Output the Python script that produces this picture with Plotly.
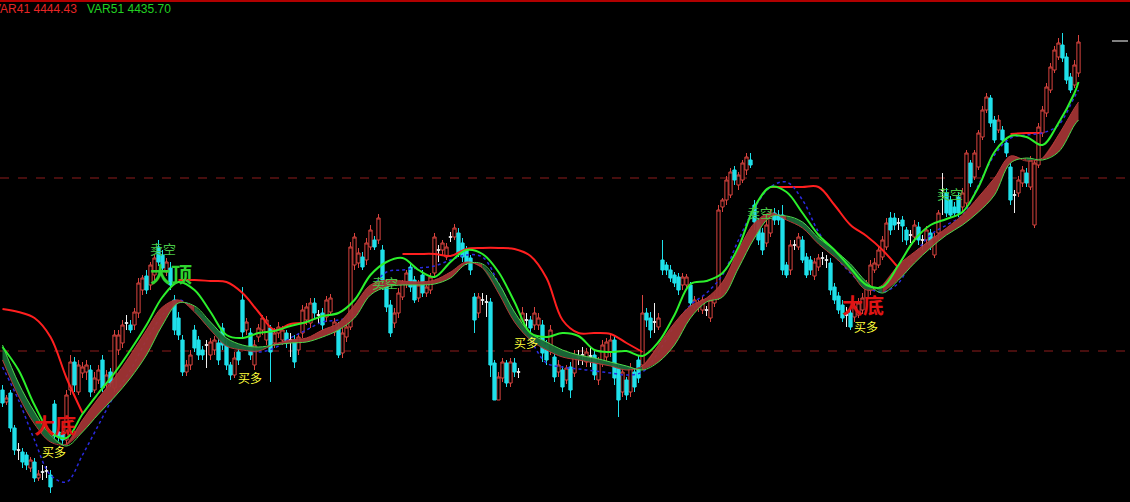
import plotly.graph_objects as go

# ---------------- data (prices) ----------------
open_ = [
    4188, 4176, 4185, 4150, 4128, 4126, 4123, 4110, 4116, 4100,
    4106, 4107, 4103, 4174, 4146, 4146, 4138, 4188, 4216, 4186,
    4205, 4206, 4208, 4188, 4198, 4218, 4193, 4206, 4190, 4228,
    4235, 4255, 4253, 4253, 4265, 4288, 4302, 4293, 4303, 4331,
    4323, 4306, 4310, 4278, 4260, 4238, 4206, 4213, 4248, 4238,
    4228, 4233, 4223, 4228, 4235, 4250, 4233, 4213, 4203, 4226,
    4278, 4248, 4245, 4213, 4241, 4248, 4238, 4250, 4235, 4245,
    4238, 4245, 4238, 4238, 4228, 4245, 4258, 4255, 4275, 4263,
    4265, 4261, 4266, 4246, 4251, 4225, 4241, 4251, 4313, 4315,
    4321, 4318, 4331, 4338, 4338, 4328, 4295, 4273, 4255, 4265,
    4281, 4295, 4311, 4298, 4280, 4303, 4285, 4288, 4305, 4328,
    4328, 4321, 4341, 4341, 4345, 4335, 4328, 4320, 4281, 4265,
    4278, 4276, 4276, 4215, 4178, 4200, 4215, 4195, 4215, 4206,
    4250, 4258, 4258, 4253, 4253, 4253, 4233, 4228, 4221, 4206,
    4208, 4198, 4211, 4205, 4221, 4223, 4216, 4222, 4223, 4198,
    4216, 4221, 4226, 4238, 4210, 4186, 4198, 4186, 4206, 4218,
    4213, 4265, 4260, 4256, 4251, 4318, 4313, 4308, 4303, 4301,
    4293, 4293, 4293, 4271, 4271, 4268, 4268, 4260, 4275, 4281,
    4371, 4378, 4383, 4408, 4393, 4398, 4408, 4418, 4373, 4356,
    4345, 4335, 4345, 4365, 4363, 4363, 4313, 4308, 4333, 4331,
    4338, 4321, 4318, 4302, 4311, 4320, 4318, 4315, 4291, 4282,
    4273, 4263, 4265, 4261, 4263, 4268, 4280, 4288, 4308, 4313,
    4321, 4331, 4360, 4360, 4355, 4358, 4348, 4343, 4341, 4351,
    4338, 4338, 4345, 4323, 4345, 4388, 4385, 4378, 4371, 4381,
    4371, 4375, 4415, 4401, 4411, 4441, 4468, 4480, 4458, 4448,
    4448, 4435, 4411, 4383, 4385, 4395, 4405, 4391, 4353, 4413,
    4445, 4465, 4488, 4508, 4521, 4533, 4521, 4501, 4493, 4505,
]
high = [
    4193, 4183, 4188, 4153, 4135, 4130, 4126, 4121, 4120, 4108,
    4113, 4112, 4108, 4178, 4150, 4150, 4188, 4223, 4221, 4218,
    4216, 4218, 4213, 4206, 4213, 4223, 4208, 4210, 4248, 4248,
    4258, 4263, 4258, 4270, 4300, 4303, 4308, 4316, 4323, 4338,
    4328, 4320, 4316, 4283, 4266, 4243, 4218, 4228, 4253, 4242,
    4232, 4238, 4240, 4242, 4240, 4255, 4238, 4216, 4226, 4230,
    4291, 4260, 4250, 4238, 4254, 4263, 4262, 4253, 4250, 4256,
    4252, 4248, 4245, 4243, 4245, 4273, 4275, 4280, 4280, 4268,
    4270, 4282, 4284, 4260, 4256, 4250, 4256, 4336, 4345, 4330,
    4326, 4340, 4353, 4342, 4364, 4333, 4298, 4278, 4270, 4290,
    4298, 4308, 4316, 4302, 4298, 4308, 4295, 4305, 4345, 4333,
    4338, 4335, 4346, 4354, 4350, 4340, 4332, 4323, 4285, 4285,
    4285, 4283, 4280, 4218, 4206, 4220, 4218, 4220, 4220, 4210,
    4271, 4265, 4262, 4271, 4265, 4258, 4238, 4253, 4226, 4218,
    4212, 4213, 4216, 4228, 4228, 4231, 4230, 4230, 4228, 4221,
    4238, 4240, 4243, 4242, 4213, 4210, 4201, 4215, 4210, 4223,
    4283, 4270, 4266, 4275, 4265, 4338, 4316, 4313, 4306, 4305,
    4305, 4304, 4296, 4282, 4278, 4282, 4272, 4281, 4285, 4373,
    4380, 4402, 4410, 4412, 4406, 4418, 4425, 4425, 4378, 4360,
    4350, 4358, 4368, 4370, 4368, 4373, 4316, 4338, 4338, 4345,
    4342, 4325, 4322, 4320, 4324, 4326, 4323, 4320, 4295, 4286,
    4278, 4271, 4270, 4275, 4280, 4285, 4298, 4318, 4320, 4332,
    4342, 4360, 4366, 4365, 4360, 4362, 4351, 4348, 4358, 4356,
    4343, 4352, 4349, 4345, 4368, 4405, 4390, 4382, 4376, 4386,
    4390, 4428, 4418, 4428, 4448, 4472, 4485, 4483, 4462, 4463,
    4452, 4439, 4415, 4388, 4402, 4412, 4410, 4422, 4418, 4455,
    4472, 4495, 4515, 4532, 4540, 4545, 4525, 4505, 4518, 4543,
]
low = [
    4171, 4173, 4146, 4123, 4118, 4110, 4108, 4106, 4096, 4097,
    4098, 4100, 4085, 4138, 4136, 4133, 4133, 4183, 4186, 4183,
    4200, 4198, 4181, 4185, 4194, 4186, 4188, 4191, 4186, 4223,
    4230, 4248, 4245, 4248, 4260, 4283, 4284, 4288, 4298, 4312,
    4306, 4302, 4288, 4243, 4238, 4202, 4202, 4208, 4226, 4218,
    4218, 4210, 4218, 4223, 4213, 4228, 4208, 4198, 4200, 4213,
    4240, 4243, 4218, 4208, 4236, 4243, 4233, 4196, 4230, 4240,
    4233, 4230, 4221, 4210, 4223, 4240, 4253, 4250, 4260, 4255,
    4248, 4256, 4263, 4242, 4220, 4220, 4236, 4248, 4308, 4310,
    4308, 4313, 4328, 4328, 4334, 4288, 4266, 4241, 4250, 4260,
    4278, 4290, 4286, 4275, 4276, 4281, 4281, 4284, 4300, 4316,
    4323, 4318, 4336, 4338, 4321, 4316, 4313, 4303, 4245, 4260,
    4273, 4261, 4201, 4178, 4178, 4196, 4191, 4191, 4201, 4200,
    4246, 4248, 4245, 4248, 4248, 4216, 4213, 4223, 4196, 4201,
    4186, 4194, 4180, 4201, 4213, 4213, 4211, 4211, 4198, 4193,
    4211, 4216, 4221, 4193, 4161, 4181, 4178, 4181, 4186, 4195,
    4208, 4251, 4240, 4245, 4248, 4303, 4303, 4296, 4291, 4283,
    4288, 4288, 4271, 4268, 4266, 4264, 4262, 4256, 4271, 4278,
    4366, 4373, 4380, 4393, 4388, 4395, 4403, 4410, 4348, 4333,
    4323, 4331, 4341, 4353, 4353, 4303, 4300, 4303, 4328, 4328,
    4315, 4300, 4303, 4298, 4307, 4313, 4310, 4283, 4274, 4264,
    4256, 4251, 4248, 4256, 4260, 4264, 4276, 4283, 4305, 4310,
    4318, 4328, 4343, 4348, 4348, 4336, 4333, 4335, 4336, 4333,
    4328, 4333, 4328, 4320, 4338, 4363, 4361, 4360, 4362, 4361,
    4367, 4371, 4391, 4398, 4408, 4438, 4465, 4451, 4435, 4445,
    4435, 4421, 4373, 4365, 4381, 4391, 4391, 4388, 4350, 4410,
    4441, 4461, 4485, 4505, 4518, 4516, 4494, 4485, 4490, 4501,
]
close = [
    4175, 4180, 4150, 4128, 4128, 4116, 4113, 4118, 4100, 4104,
    4106, 4107, 4091, 4142, 4141, 4138, 4183, 4216, 4193, 4213,
    4211, 4213, 4186, 4200, 4208, 4190, 4203, 4195, 4243, 4243,
    4253, 4255, 4248, 4266, 4295, 4300, 4288, 4313, 4320, 4316,
    4310, 4316, 4293, 4248, 4243, 4206, 4213, 4223, 4230, 4223,
    4223, 4233, 4236, 4238, 4218, 4233, 4213, 4203, 4220, 4218,
    4246, 4256, 4223, 4233, 4250, 4260, 4258, 4226, 4245, 4251,
    4248, 4235, 4238, 4216, 4241, 4268, 4271, 4275, 4265, 4263,
    4253, 4278, 4280, 4256, 4223, 4245, 4251, 4331, 4341, 4325,
    4311, 4335, 4348, 4331, 4360, 4298, 4271, 4245, 4265, 4285,
    4295, 4305, 4291, 4278, 4293, 4285, 4291, 4301, 4341, 4328,
    4335, 4331, 4341, 4350, 4325, 4321, 4316, 4308, 4258, 4281,
    4278, 4276, 4213, 4178, 4201, 4216, 4195, 4216, 4206, 4206,
    4265, 4258, 4250, 4265, 4260, 4225, 4218, 4248, 4201, 4213,
    4191, 4210, 4188, 4223, 4221, 4223, 4226, 4222, 4203, 4216,
    4233, 4236, 4238, 4200, 4178, 4206, 4183, 4210, 4191, 4200,
    4265, 4258, 4248, 4256, 4260, 4308, 4308, 4300, 4295, 4288,
    4301, 4301, 4275, 4278, 4275, 4278, 4268, 4278, 4281, 4368,
    4378, 4398, 4406, 4398, 4403, 4415, 4421, 4413, 4356, 4338,
    4328, 4353, 4363, 4358, 4358, 4308, 4303, 4333, 4333, 4341,
    4318, 4303, 4308, 4316, 4320, 4320, 4318, 4288, 4278, 4268,
    4260, 4263, 4251, 4271, 4275, 4280, 4293, 4313, 4315, 4328,
    4338, 4355, 4348, 4353, 4355, 4352, 4338, 4343, 4353, 4338,
    4338, 4348, 4333, 4341, 4365, 4388, 4365, 4363, 4365, 4365,
    4385, 4425, 4395, 4425, 4445, 4468, 4481, 4455, 4438, 4458,
    4438, 4425, 4378, 4383, 4398, 4408, 4395, 4418, 4415, 4451,
    4468, 4491, 4511, 4528, 4535, 4520, 4498, 4488, 4513, 4536,
]

# indicator lines, sampled every 4th bar (plus the last bar)
fast_ma = [
    4231, 4208, 4173, 4146, 4140, 4164, 4185, 4205, 4228, 4253,
    4281, 4296, 4288, 4266, 4243, 4240, 4245, 4247, 4252, 4256,
    4262, 4265, 4278, 4303, 4316, 4320, 4308, 4301, 4316, 4328,
    4324, 4306, 4276, 4245, 4241, 4245, 4242, 4228, 4226, 4227,
    4222, 4236, 4263, 4294, 4297, 4305, 4331, 4371, 4391, 4386,
    4365, 4343, 4328, 4310, 4293, 4291, 4313, 4338, 4353, 4359,
    4366, 4391, 4426, 4442, 4441, 4433, 4455, 4485, 4496,
]
band_a = [
    4218, 4182, 4154, 4136, 4134, 4158, 4180, 4200, 4223, 4248,
    4271, 4278, 4266, 4248, 4232, 4228, 4227, 4234, 4238, 4240,
    4248, 4255, 4273, 4293, 4298, 4297, 4296, 4298, 4306, 4316,
    4310, 4285, 4256, 4238, 4228, 4221, 4218, 4215, 4212, 4208,
    4212, 4233, 4255, 4272, 4280, 4296, 4328, 4355, 4365, 4358,
    4350, 4334, 4321, 4306, 4288, 4293, 4313, 4326, 4338, 4350,
    4363, 4381, 4400, 4422, 4417, 4420, 4443, 4470, 4476,
]
band_b = [
    4233, 4195, 4166, 4143, 4132, 4146, 4164, 4181, 4200, 4223,
    4253, 4275, 4272, 4256, 4240, 4233, 4231, 4233, 4235, 4236,
    4241, 4248, 4260, 4283, 4291, 4293, 4293, 4294, 4300, 4314,
    4314, 4295, 4266, 4245, 4236, 4228, 4223, 4220, 4216, 4212,
    4208, 4216, 4233, 4260, 4276, 4281, 4310, 4340, 4361, 4362,
    4356, 4340, 4328, 4314, 4296, 4285, 4298, 4315, 4330, 4343,
    4353, 4366, 4383, 4415, 4420, 4418, 4426, 4453, 4458,
]
blue_ma = [
    4211, 4178, 4138, 4103, 4096, 4123, 4153, 4183, 4208, 4238,
    4263, 4278, 4268, 4253, 4238, 4230, 4226, 4230, 4240, 4248,
    4256, 4258, 4263, 4288, 4306, 4308, 4310, 4312, 4318, 4323,
    4321, 4295, 4263, 4238, 4215, 4211, 4209, 4207, 4205, 4203,
    4206, 4226, 4252, 4273, 4285, 4303, 4338, 4370, 4391, 4396,
    4378, 4346, 4323, 4305, 4291, 4286, 4295, 4323, 4343, 4353,
    4363, 4393, 4423, 4440, 4443, 4445, 4453, 4481, 4488,
]
red_stop = [
    4269, 4266, 4260, 4241, 4200, 4165, None, None, None, None,
    None, 4298, 4298, 4297, 4296, 4285, 4266, 4248, 4254, 4255,
    None, None, None, None, None, 4324, 4324, 4324, 4322, 4329,
    4330, 4330, 4329, 4322, 4300, 4258, 4245, 4245, 4244, 4235,
    4226, None, None, None, None, None, None, None, 4391, 4391,
    4391, 4391, 4373, 4353, 4342, 4328, 4310, None, None, None,
    None, None, None, 4444, 4445, 4445, None, None, None,
]
grid_levels = [4400, 4227]
legend_names = ["VAR41", "VAR51"]
legend_values = [4444.43, 4435.70]

signal_text = ["大底", "买多", "卖空", "大顶", "买多", "卖空", "买多", "卖空", "大底", "买多", "卖空"]
signal_x = [13.1, 12.9, 40.1, 42.1, 61.9, 95.6, 130.9, 189.4, 215.1, 215.9, 236.9]
signal_y = [4154, 4127, 4330, 4305, 4201, 4296, 4236, 4366, 4274, 4252, 4385]

# ---------------- styling ----------------
UP = "#d9443f"
DOWN = "#1fe0ea"
DOJI = "#f0f0f0"
RED_FILL = "rgba(160,52,52,0.95)"
GREEN_FILL = "rgba(26,104,56,0.95)"
SIG_STYLE = {
    "大底": dict(size=21, color="#e01414", bold=True),
    "大顶": dict(size=21, color="#2fd42f", bold=True),
    "卖空": dict(size=13, color="#48c848", bold=False),
    "买多": dict(size=12, color="#ffff3c", bold=False),
}

N = len(close)
candle_x = list(range(N))
line_x = list(range(0, N - 1, 4)) + [N - 1]

fig = go.Figure()


def subset(idx):
    return dict(
        x=[candle_x[i] for i in idx],
        open=[open_[i] for i in idx],
        high=[high[i] for i in idx],
        low=[low[i] for i in idx],
        close=[close[i] for i in idx],
    )


up_idx = [i for i in range(N) if close[i] > open_[i]]
dn_idx = [i for i in range(N) if close[i] < open_[i]]
dj_idx = [i for i in range(N) if close[i] == open_[i]]

for idx, lc, fc in ((up_idx, UP, "#000000"), (dn_idx, DOWN, DOWN), (dj_idx, DOJI, DOJI)):
    fig.add_trace(go.Candlestick(
        **subset(idx),
        increasing=dict(line=dict(color=lc, width=1), fillcolor=fc),
        decreasing=dict(line=dict(color=lc, width=1), fillcolor=fc),
        whiskerwidth=0, hoverinfo="skip", showlegend=False,
    ))

# red trailing line
fig.add_trace(go.Scatter(x=line_x, y=red_stop, mode="lines", connectgaps=False,
                         line=dict(color="#ff1f1f", width=2, shape="spline"),
                         hoverinfo="skip", showlegend=False))
# blue dotted line
fig.add_trace(go.Scatter(x=line_x, y=blue_ma, mode="lines",
                         line=dict(color="#2a2ae0", width=1.5, dash="dot", shape="spline"),
                         hoverinfo="skip", showlegend=False))

# band fill, coloured by direction
rising = [a > b for a, b in zip(band_a, band_b)]
M = len(line_x)
s = 0
for k in range(1, M + 1):
    if k == M or rising[k] != rising[s]:
        e = min(k, M - 1)
        xs = line_x[s:e + 1]
        fig.add_trace(go.Scatter(x=xs, y=band_b[s:e + 1], mode="lines",
                                 line=dict(width=0, shape="spline"),
                                 hoverinfo="skip", showlegend=False))
        fig.add_trace(go.Scatter(x=xs, y=band_a[s:e + 1], mode="lines",
                                 line=dict(width=0, shape="spline"), fill="tonexty",
                                 fillcolor=RED_FILL if rising[s] else GREEN_FILL,
                                 hoverinfo="skip", showlegend=False))
        s = k

fig.add_trace(go.Scatter(x=line_x, y=band_a, mode="lines",
                         line=dict(color="#b53838", width=1, shape="spline"),
                         hoverinfo="skip", showlegend=False))
fig.add_trace(go.Scatter(x=line_x, y=band_b, mode="lines",
                         line=dict(color="#4cd84c", width=1, shape="spline"),
                         hoverinfo="skip", showlegend=False))
fig.add_trace(go.Scatter(x=line_x, y=fast_ma, mode="lines",
                         line=dict(color="#2cf02c", width=2, shape="spline"),
                         hoverinfo="skip", showlegend=False))

# signal labels
for t, sx, sy in zip(signal_text, signal_x, signal_y):
    st = SIG_STYLE[t]
    fig.add_annotation(x=sx, y=sy, text=f"<b>{t}</b>" if st["bold"] else t, showarrow=False,
                       borderpad=0,
                       font=dict(family="Noto Sans CJK SC", size=st["size"], color=st["color"]))

# dashed price levels
for lv in grid_levels:
    fig.add_shape(type="line", xref="paper", yref="y", x0=0, x1=1, y0=lv, y1=lv,
                  line=dict(color="#8e1c1c", width=1, dash="dash"), layer="below")

# top frame line
fig.add_shape(type="line", xref="paper", yref="paper", x0=0, x1=1, y0=0.998, y1=0.998,
              line=dict(color="#b00000", width=2))
# last price marker
fig.add_shape(type="line", xref="paper", yref="y", x0=1112 / 1130, x1=1128 / 1130,
              y0=close[-1] + 1, y1=close[-1] + 1, line=dict(color="#ffffff", width=1))

# legend texts
fig.add_annotation(xref="paper", yref="paper", x=-9 / 1130, y=1 - 9 / 502,
                   xanchor="left", yanchor="middle", showarrow=False,
                   text=f"{legend_names[0]} {legend_values[0]:.2f}",
                   font=dict(family="Liberation Sans, Arial", size=12, color="#e52525"))
fig.add_annotation(xref="paper", yref="paper", x=85 / 1130, y=1 - 9 / 502,
                   xanchor="left", yanchor="middle", showarrow=False,
                   text=f"{legend_names[1]} {legend_values[1]:.2f}",
                   font=dict(family="Liberation Sans, Arial", size=12, color="#22d022"))

fig.update_layout(
    width=1130, height=502,
    margin=dict(l=0, r=0, t=0, b=0),
    paper_bgcolor="#000000", plot_bgcolor="#000000",
    showlegend=False, hovermode=False,
    boxgap=0.15, boxgroupgap=0.05,
    xaxis=dict(visible=False, range=[-0.625, 281.875], rangeslider=dict(visible=False),
               fixedrange=True),
    yaxis=dict(visible=False, range=[4076, 4578], fixedrange=True),
)

fig.write_html("out.html", config={"displayModeBar": False},
               post_script="document.body.style.margin='0';document.body.style.background='#000';")
